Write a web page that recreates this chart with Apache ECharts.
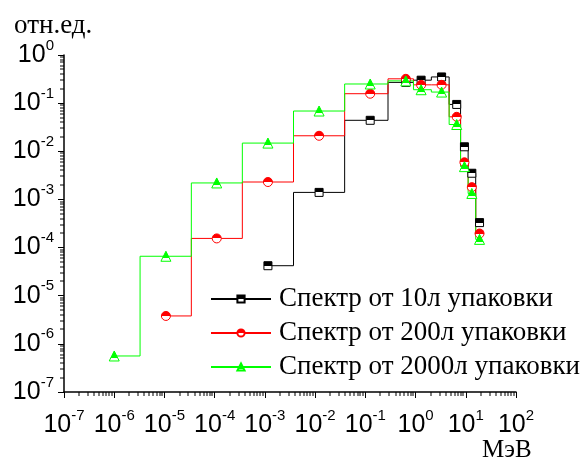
<!DOCTYPE html>
<html>
<head>
<meta charset="utf-8">
<script src="https://cdn.jsdelivr.net/npm/echarts@6/dist/echarts.min.js"></script>
<style>
  html, body { margin: 0; padding: 0; background: #fff; }
  #chart { width: 582px; height: 457px; }
</style>
</head>
<body>
<div id="chart"></div>
<script>
  // энергии точек, МэВ
  var energy = [1e-6, 1.07e-5, 1.1e-4, 1.15e-3, 1.2e-2, 0.125, 0.64, 1.29, 3.3, 6.6, 9.4, 13.2, 18.8];
  // спектры, отн.ед. (null - точки нет)
  var spec10 = [null, null, null, 4.2e-5, 1.4e-3, 0.044, 0.27, 0.30, 0.35, 0.094, 0.0124, 0.0035, 3.3e-4];
  var spec200 = [null, 3.8e-6, 1.55e-4, 2.3e-3, 0.021, 0.157, 0.32, 0.24, 0.24, 0.052, 0.0059, 0.0018, 1.96e-4];
  var spec2000 = [5.6e-7, 6.6e-5, 2.2e-3, 0.0148, 0.0686, 0.25, 0.29, 0.19, 0.17, 0.036, 0.0048, 0.00133, 1.48e-4];
  var names = ['Спектр от 10л упаковки', 'Спектр от 200л упаковки', 'Спектр от 2000л упаковки'];

  var xMin = 1e-7, xMax = 100, yMin = 1e-7, yMax = 1;

  var pairs = function (vals) {
    var out = [];
    for (var i = 0; i < energy.length; i++) {
      if (vals[i] != null) out.push([energy[i], vals[i]]);
    }
    return out;
  };

  // промежуточные деления логарифмической шкалы (2..9 в каждой декаде)
  var minorTicks = function (lo, hi) {
    var out = [];
    for (var d = lo; d < hi * 0.99; d *= 10) {
      for (var k = 2; k <= 9; k++) out.push(k * d);
    }
    return out;
  };

  var halfFill = function (c, at) {
    return {
      type: 'linear', x: 0, y: 0, x2: 0, y2: 1,
      colorStops: [
        {offset: 0, color: c}, {offset: at, color: c},
        {offset: at, color: '#fff'}, {offset: 1, color: '#fff'}
      ]
    };
  };

  var mkSeries = function (name, vals, color, symbol, size, at) {
    return {
      name: name,
      type: 'line',
      step: 'middle',
      data: pairs(vals),
      symbol: symbol,
      symbolSize: size,
      showAllSymbol: true,
      lineStyle: {color: color, width: 1},
      itemStyle: {color: halfFill(color, at), borderColor: color, borderWidth: 1},
      emphasis: {disabled: true}
    };
  };

  // мелкие засечки: прямоугольники 1px, позиция берётся из шкалы оси
  var tickSeries = function (name, vals, horizontal) {
    return {
      name: name,
      type: 'custom',
      coordinateSystem: 'cartesian2d',
      clip: false,
      z: 10,
      encode: {x: 0, y: 1},
      data: vals.map(function (v) { return horizontal ? [v, 1e-3] : [1e-3, v]; }),
      renderItem: function (params, api) {
        var p = horizontal ? api.coord([api.value(0), yMin]) : api.coord([xMin, api.value(1)]);
        var px = Math.round(p[0]), py = Math.round(p[1]);
        var shape = horizontal
            ? {x: px - 0.5, y: py, width: 1, height: 4}
            : {x: px - 4, y: py - 0.5, width: 4, height: 1};
        return {type: 'rect', shape: shape, style: {fill: '#000'}};
      }
    };
  };

  var powLabel = function (v) {
    var e = Math.round(Math.log(v) / Math.LN10);
    return '{b|10}{s|' + e + '}';
  };
  var richLab = {
    b: {fontSize: 25, fontFamily: 'Liberation Sans', color: '#000', lineHeight: 34},
    s: {fontSize: 15, fontFamily: 'Liberation Sans', color: '#000', verticalAlign: 'top', lineHeight: 15}
  };

  var chart = echarts.init(document.getElementById('chart'));
  chart.setOption({
    animation: false,
    backgroundColor: '#fff',
    grid: {left: 64, right: 66, top: 55, bottom: 65, containLabel: false, outerBoundsMode: 'none'},
    xAxis: {
      type: 'log', logBase: 10, min: xMin, max: xMax,
      axisLine: {lineStyle: {color: '#000', width: 1.5}},
      axisTick: {show: true, length: 6, inside: false, lineStyle: {color: '#000', width: 1}},
      splitLine: {show: false},
      axisLabel: {formatter: powLabel, rich: richLab, margin: 16, showMinLabel: true, showMaxLabel: true}
    },
    yAxis: {
      type: 'log', logBase: 10, min: yMin, max: yMax,
      axisLine: {show: true, lineStyle: {color: '#000', width: 1.5}},
      axisTick: {show: true, length: 6, inside: false, lineStyle: {color: '#000', width: 1}},
      splitLine: {show: false},
      axisLabel: {formatter: powLabel, rich: richLab, margin: 10}
    },
    legend: {
      orient: 'vertical',
      left: 205, top: 277,
      itemWidth: 60, itemHeight: 9, itemGap: 0,
      textStyle: {fontFamily: 'Liberation Serif', fontSize: 27, color: '#000', lineHeight: 34, padding: [0, 0, 0, 3]},
      data: names
    },
    graphic: [
      {type: 'text', left: 14, top: 12, style: {text: 'отн.ед.', font: '27px "Liberation Serif"', fill: '#000'}},
      {type: 'text', left: 482, top: 438, style: {text: 'МэВ', font: '25px "Liberation Serif"', fill: '#000'}}
    ],
    series: [
      mkSeries(names[0], spec10, '#000000', 'rect', 8, 0.5),
      mkSeries(names[1], spec200, '#ff0000', 'circle', 9, 0.5),
      mkSeries(names[2], spec2000, '#00ff00', 'triangle', 10, 0.7),
      tickSeries('minorX', minorTicks(xMin, xMax), true),
      tickSeries('minorY', minorTicks(yMin, yMax), false)
    ]
  });
</script>
</body>
</html>
